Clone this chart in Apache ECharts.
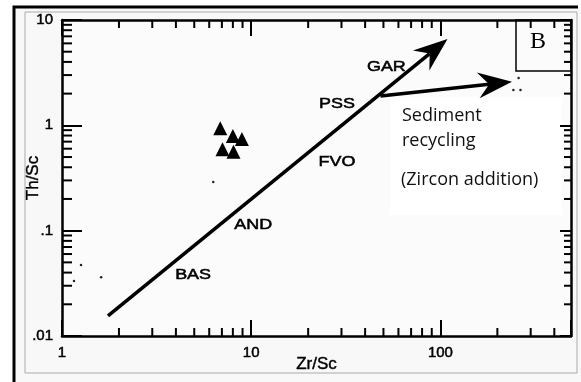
<!DOCTYPE html>
<html>
<head>
    <meta charset="utf-8" />
    <title>Th/Sc vs Zr/Sc</title>
    <style>
        html, body {
            margin: 0;
            padding: 0;
            width: 100%;
            height: 100%;
            overflow: hidden;
            background: #fff;
        }

        #chart {
            width: 581px;
            height: 382px;
        }
    </style>
    <script src="https://cdn.jsdelivr.net/npm/echarts@6/dist/echarts.min.js"></script>
</head>
<body>
    <div id="chart"></div>
    <script>
        // axis ranges
        var X_MIN = 1, X_MAX = 490;
        var Y_MIN = 0.01, Y_MAX = 10;

        // tick labels
        var xTickValues = [1, 10, 100];
        var xTickLabels = ['1', '10', '100'];
        var yTickValues = [0.01, 0.1, 1, 10];
        var yTickLabels = ['.01', '.1', '1', '10'];
        var xMinorTicks = [2, 3, 4, 5, 6, 7, 8, 9, 20, 30, 40, 50, 60, 70, 80, 90, 200, 300, 400];
        var yMinorTicks = [0.02, 0.03, 0.04, 0.05, 0.06, 0.07, 0.08, 0.09, 0.2, 0.3, 0.4, 0.5, 0.6, 0.7, 0.8, 0.9, 2, 3, 4, 5, 6, 7, 8, 9];

        // samples (triangles)
        var sampleZrSc = [6.86, 8.0, 8.93, 7.05, 8.06];
        var sampleThSc = [0.937, 0.79, 0.741, 0.592, 0.561];

        // small stray dots
        var dotZrSc = [1.26, 1.61, 1.157, 6.3, 259, 243, 265];
        var dotThSc = [0.0471, 0.0362, 0.0332, 0.29, 2.81, 2.16, 2.16];

        // reference compositions along the trend
        var refNames = ['GAR', 'PSS', 'FVO', 'AND', 'BAS'];
        var refZrSc = [51.8, 28.4, 28.4, 10.25, 4.93];
        var refThSc = [3.60, 1.60, 0.443, 0.113, 0.0381];

        // arrows: compositional trend and sediment recycling
        var arrowFromZrSc = [1.75, 48.2];
        var arrowFromThSc = [0.0155, 1.90];
        var arrowToZrSc = [109, 239];
        var arrowToThSc = [6.6, 2.59];

        function pickLabel(values, labels) {
            return function (v) {
                for (var i = 0; i < values.length; i++) {
                    if (Math.abs(v / values[i] - 1) < 1e-6) return labels[i];
                }
                return '';
            };
        }

        function zip(a, b) {
            var out = [];
            for (var i = 0; i < a.length; i++) out.push([a[i], b[i]]);
            return out;
        }

        var tickStyle = { color: '#000', width: 2 };
        var lineStyle = { color: '#000', width: 2.5 };
        var nameFont = { color: '#000', fontFamily: 'Liberation Sans', fontSize: 17, textBorderColor: '#000', textBorderWidth: 0.4 };
        var tickFont = {
            color: '#000', fontFamily: 'Liberation Sans', fontSize: 15, margin: 9,
            textBorderColor: '#000', textBorderWidth: 0.5
        };

        function xAxisDef(pos) {
            return {
                type: 'log', logBase: 10, min: X_MIN, max: X_MAX, position: pos,
                axisLine: { lineStyle: lineStyle },
                axisTick: { inside: true, length: 16, lineStyle: tickStyle },
                axisLabel: echarts.util.extend({
                    show: pos === 'bottom',
                    formatter: pickLabel(xTickValues, xTickLabels)
                }, tickFont),
                splitLine: { show: false },
                name: pos === 'bottom' ? 'Zr/Sc' : '',
                nameLocation: 'middle', nameGap: 20, nameMoveOverlap: false,
                nameTextStyle: nameFont
            };
        }

        function yAxisDef(pos, len) {
            return {
                type: 'log', logBase: 10, min: Y_MIN, max: Y_MAX, position: pos,
                axisLine: { lineStyle: lineStyle },
                axisTick: { inside: true, length: len, lineStyle: tickStyle },
                axisLabel: echarts.util.extend({
                    show: pos === 'left',
                    formatter: pickLabel(yTickValues, yTickLabels)
                }, tickFont),
                splitLine: { show: false },
                name: pos === 'left' ? 'Th/Sc' : '',
                nameLocation: 'middle', nameGap: 20, nameMoveOverlap: false,
                nameTextStyle: nameFont
            };
        }

        function tickLine(x1, y1, x2, y2) {
            return { type: 'line', shape: { x1: x1, y1: y1, x2: x2, y2: y2 }, style: { stroke: '#000', lineWidth: 2 } };
        }

        // minor ticks on all four sides
        var xMinorSeries = {
            type: 'custom', silent: true, z: 5,
            data: xMinorTicks.map(function (v) { return [v, Y_MIN]; }),
            renderItem: function (params, api) {
                var v = api.value(0);
                var b = api.coord([v, Y_MIN]), t = api.coord([v, Y_MAX]);
                return {
                    type: 'group', children: [
                        tickLine(b[0], b[1], b[0], b[1] - 8),
                        tickLine(t[0], t[1], t[0], t[1] + 8)
                    ]
                };
            }
        };

        var yMinorSeries = {
            type: 'custom', silent: true, z: 5,
            data: yMinorTicks.map(function (v) { return [X_MIN, v]; }),
            renderItem: function (params, api) {
                var v = api.value(1);
                var l = api.coord([X_MIN, v]), r = api.coord([X_MAX, v]);
                return {
                    type: 'group', children: [
                        tickLine(l[0], l[1], l[0] + 10, l[1]),
                        tickLine(r[0], r[1], r[0] - 7, r[1])
                    ]
                };
            }
        };

        var arrowSeries = {
            type: 'custom', silent: true, z: 4,
            data: arrowFromZrSc.map(function (v, i) {
                return [arrowFromZrSc[i], arrowFromThSc[i], arrowToZrSc[i], arrowToThSc[i]];
            }),
            renderItem: function (params, api) {
                var p0 = api.coord([api.value(0), api.value(1)]);
                var p1 = api.coord([api.value(2), api.value(3)]);
                var dx = p1[0] - p0[0], dy = p1[1] - p0[1];
                var d = Math.sqrt(dx * dx + dy * dy);
                var ux = dx / d, uy = dy / d, px = -uy, py = ux;
                var L = 34, W = 13, N = 23;
                var notch = [p1[0] - ux * N, p1[1] - uy * N];
                return {
                    type: 'group', children: [
                        {
                            type: 'line',
                            shape: { x1: p0[0], y1: p0[1], x2: notch[0], y2: notch[1] },
                            style: { stroke: '#000', lineWidth: 3.5 }
                        },
                        {
                            type: 'polygon',
                            shape: {
                                points: [
                                    p1,
                                    [p1[0] - ux * L + px * W, p1[1] - uy * L + py * W],
                                    notch,
                                    [p1[0] - ux * L - px * W, p1[1] - uy * L - py * W]
                                ]
                            },
                            style: { fill: '#000' }
                        }
                    ]
                };
            }
        };

        var refLabelSeries = {
            type: 'custom', silent: true, z: 6,
            data: zip(refZrSc, refThSc),
            renderItem: function (params, api) {
                var p = api.coord([api.value(0), api.value(1)]);
                return {
                    type: 'text', x: p[0], y: p[1], scaleX: 1.28,
                    style: {
                        text: refNames[params.dataIndex],
                        font: '14px "Liberation Sans"',
                        fill: '#000',
                        stroke: '#000',
                        lineWidth: 0.5,
                        align: 'center',
                        verticalAlign: 'middle'
                    }
                };
            }
        };

        var noteFont = '18px "Open Sans"';

        var chart = echarts.init(document.getElementById('chart'));
        var option = {
            backgroundColor: '#fff',
            animation: false,
            grid: { left: 62, top: 20, right: 10, bottom: 46, outerBoundsMode: 'none' },
            xAxis: [xAxisDef('bottom'), xAxisDef('top')],
            yAxis: [yAxisDef('left', 20), yAxisDef('right', 11)],
            graphic: [
                { type: 'rect', z: -10, shape: { x: 14, y: 7, width: 567, height: 375 }, style: { fill: '#f8f8f8' } },
                { type: 'rect', z: -9, shape: { x: 62, y: 20, width: 509, height: 316 }, style: { fill: '#fbfbfb' } },
                { type: 'rect', z: -8, shape: { x: 390, y: 97, width: 172, height: 118 }, style: { fill: '#fff' } },
                { type: 'rect', z: -7, shape: { x: 25, y: 12, width: 552, height: 361 }, style: { fill: 'none', stroke: '#aaa', lineWidth: 1 } },
                { type: 'polyline', z: 10, shape: { points: [[14, 382], [14, 7], [578, 7]] }, style: { fill: 'none', stroke: '#000', lineWidth: 3 } },
                { type: 'rect', z: 10, shape: { x: 516, y: 20, width: 55, height: 51 }, style: { fill: 'none', stroke: '#000', lineWidth: 1.5 } },
                { type: 'text', z: 10, x: 538, y: 42, style: { text: 'B', font: '24px "Liberation Serif"', fill: '#000', align: 'center', verticalAlign: 'middle' } },
                { type: 'text', z: 10, x: 402, y: 115.5, style: { text: 'Sediment', font: noteFont, fill: '#111', verticalAlign: 'middle' } },
                { type: 'text', z: 10, x: 402, y: 140.5, style: { text: 'recycling', font: noteFont, fill: '#111', verticalAlign: 'middle' } },
                { type: 'text', z: 10, x: 401, y: 179.5, style: { text: '(Zircon addition)', font: noteFont, fill: '#111', verticalAlign: 'middle' } }
            ],
            series: [
                {
                    type: 'scatter', name: 'samples', z: 6,
                    symbol: 'triangle', symbolSize: 14,
                    itemStyle: { color: '#000', opacity: 1 },
                    data: zip(sampleZrSc, sampleThSc)
                },
                {
                    type: 'scatter', name: 'dots', z: 6,
                    symbol: 'circle', symbolSize: 2.5,
                    itemStyle: { color: '#222', opacity: 1 },
                    data: zip(dotZrSc, dotThSc)
                },
                arrowSeries,
                refLabelSeries,
                xMinorSeries,
                yMinorSeries
            ]
        };
        chart.setOption(option);
    </script>
</body>
</html>
